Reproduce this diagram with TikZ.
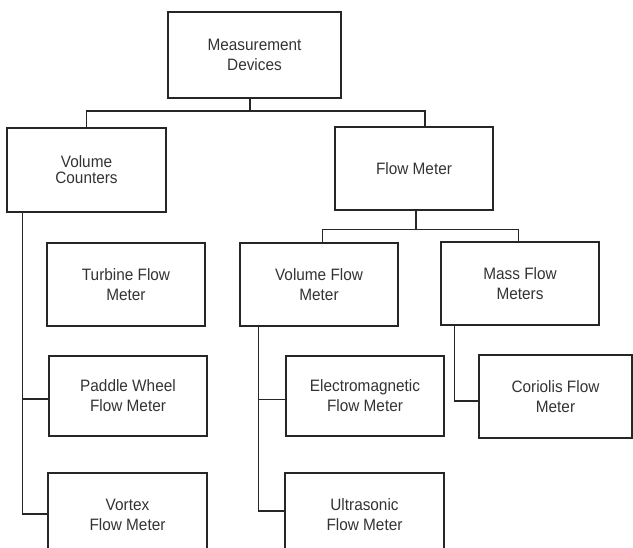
\documentclass[tikz,border=0pt]{standalone}
\usepackage{fontspec}
\setmainfont{Liberation Sans}[FakeStretch=0.93]
\begin{document}
\begin{tikzpicture}[x=1pt,y=-1pt,
  box/.style={draw=black!85,line width=1.1pt,rectangle,align=center,inner sep=0pt,
    text=black!80,font=\fontsize{16.5}{20}\selectfont},
  link/.style={draw=black!85,line width=1.1pt}]
\path[use as bounding box] (0,0) rectangle (633,548);
\clip (0,0) rectangle (633,548);
% nodes
\node[box,minimum width=173pt,minimum height=86pt] (md) at (254.5,55) {Measurement\\Devices};
\node[box,minimum width=159pt,minimum height=84pt,font=\fontsize{16.5}{16}\selectfont] (vc) at (86.5,170) {Volume\\Counters};
\node[box,minimum width=158pt,minimum height=83pt] (fm) at (414,168.5) {Flow Meter};
\node[box,minimum width=158pt,minimum height=83pt] (tb) at (126,284.5) {Turbine Flow\\Meter};
\node[box,minimum width=158pt,minimum height=80pt] (pw) at (128,396) {Paddle Wheel\\Flow Meter};
\node[box,minimum width=159pt,minimum height=83pt] (vx) at (127.5,514.5) {Vortex\\Flow Meter};
\node[box,minimum width=158pt,minimum height=83pt] (vf) at (319,284.5) {Volume Flow\\Meter};
\node[box,minimum width=158pt,minimum height=83pt] (mf) at (520,283.5) {Mass Flow\\Meters};
\node[box,minimum width=158pt,minimum height=80pt] (em) at (365,396) {Electromagnetic\\Flow Meter};
\node[box,minimum width=159pt,minimum height=83pt] (us) at (364.5,514.5) {Ultrasonic\\Flow Meter};
\node[box,minimum width=153pt,minimum height=83pt] (co) at (555.5,396.5) {Coriolis Flow\\Meter};
% bus coordinates
\coordinate (bus1) at (0,111);
\coordinate (bus2) at (0,229.5);
% top level connectors
\draw[link] ([xshift=-4.5pt]md.south) -- ([xshift=-4.5pt]md.south |- bus1);
\draw[link] (vc.north) -- (vc.north |- bus1) -- ([xshift=11pt]fm.north |- bus1) -- ([xshift=11pt]fm.north);
% flow meter connectors
\draw[link] ([xshift=2pt]fm.south) -- ([xshift=2pt]fm.south |- bus2);
\draw[link] ([xshift=3.7pt]vf.north) -- ([xshift=3.7pt]vf.north |- bus2) -- ([xshift=-1.7pt]mf.north |- bus2) -- ([xshift=-1.7pt]mf.north);
% volume counters branch
\coordinate (vcx) at ([xshift=16pt]vc.south west);
\draw[link] (vcx) |- ([yshift=0.5pt]vx.west);
\draw[link] ([yshift=-3pt]pw.west) -- ([yshift=-3pt]pw.west -| vcx);
% volume flow meter branch
\coordinate (vfx) at ([xshift=18.7pt]vf.south west);
\draw[link] (vfx) |- ([yshift=3.5pt]us.west);
\draw[link] ([yshift=-3.3pt]em.west) -- ([yshift=-3.3pt]em.west -| vfx);
% mass flow meter branch
\coordinate (mfx) at ([xshift=14.3pt]mf.south west);
\draw[link] (mfx) |- ([yshift=-4.5pt]co.west);
\end{tikzpicture}
\end{document}
